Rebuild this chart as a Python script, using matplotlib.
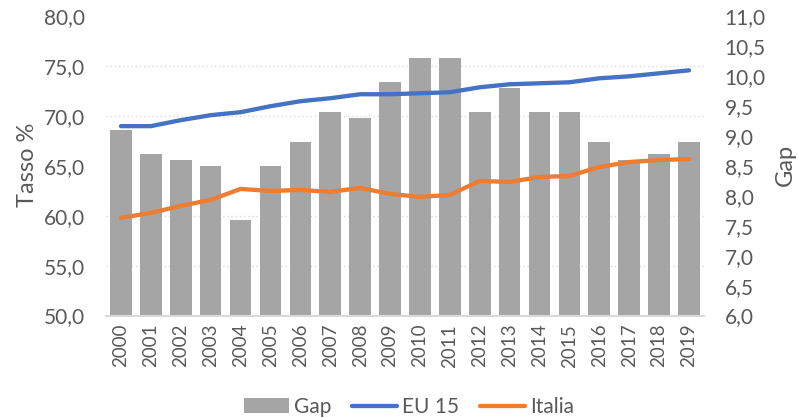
import matplotlib
matplotlib.use("Agg")
import matplotlib.pyplot as plt
import numpy as np
from matplotlib.ticker import FuncFormatter, FixedLocator, MultipleLocator

years = [str(y) for y in range(2000, 2020)]
gap = [9.1, 8.7, 8.6, 8.5, 7.6, 8.5, 8.9, 9.4, 9.3, 9.9,
       10.3, 10.3, 9.4, 9.8, 9.4, 9.4, 8.9, 8.6, 8.7, 8.9]
eu15 = [69.0, 69.0, 69.6, 70.1, 70.4, 71.0, 71.5, 71.8, 72.2, 72.2,
        72.3, 72.4, 72.9, 73.2, 73.3, 73.4, 73.8, 74.0, 74.3, 74.6]
italia = [59.8, 60.3, 61.0, 61.6, 62.7, 62.5, 62.6, 62.4, 62.8, 62.2,
          61.9, 62.1, 63.5, 63.4, 63.9, 64.0, 64.9, 65.4, 65.6, 65.7]

plt.rcParams['font.family'] = ['Lato', 'DejaVu Sans']
txt = '#595959'
W, H = 799, 418

fig = plt.figure(figsize=(7.99, 4.18), dpi=100)
axb = fig.add_axes([0.1327, 0.2452, 0.881 - 0.1327, 0.9605 - 0.2452])
axl = axb.twinx()

x = np.arange(len(years))
fmt = FuncFormatter(lambda v, p: f"{v:.1f}".replace('.', ','))

# bars axis (right scale)
bars = axb.bar(x, gap, width=0.725, color='#A5A5A5', label='Gap', zorder=2)
axb.set_ylim(6.0, 11.0)
axb.set_xlim(-0.5, len(years) - 0.5)
axb.yaxis.set_major_locator(MultipleLocator(0.5))
axb.yaxis.set_minor_locator(FixedLocator(np.linspace(6.0, 11.0, 7)))
axb.grid(which='minor', axis='y', color='#D9D9D9', linestyle=(0, (1, 2)), linewidth=1.0, zorder=0)
axb.set_axisbelow(True)
axb.yaxis.set_major_formatter(fmt)
axb.yaxis.tick_right()
axb.tick_params(axis='y', which='both', length=0, labelsize=15, colors=txt, pad=15,
                left=False, labelleft=False, right=True, labelright=True)
axb.set_xticks(x)
axb.set_xticklabels(years, rotation=90)
axb.tick_params(axis='x', length=0, labelsize=13.5, colors=txt, pad=6)
for s in ['top', 'left', 'right']:
    axb.spines[s].set_visible(False)
axb.spines['bottom'].set_color('#D9D9D9')
axb.spines['bottom'].set_linewidth(1.5)

# lines axis (left scale)
l1, = axl.plot(x, eu15, color='#4472C4', linewidth=3.1, label='EU 15', solid_capstyle='round')
l2, = axl.plot(x, italia, color='#ED7D31', linewidth=3.1, label='Italia', solid_capstyle='round')
axl.set_ylim(50, 80)
axl.yaxis.set_major_locator(MultipleLocator(5))
axl.yaxis.set_major_formatter(fmt)
axl.yaxis.tick_left()
axl.tick_params(axis='y', length=0, labelsize=15, colors=txt, pad=15,
                right=False, labelright=False, left=True, labelleft=True)
for s in ['top', 'left', 'right', 'bottom']:
    axl.spines[s].set_visible(False)

# axis titles
fig.text(28 / W, 1 - 165 / H, 'Tasso %', rotation=90, ha='center', va='center',
         fontsize=17, color=txt)
fig.text(785 / W, 1 - 165 / H, 'Gap', rotation=90, ha='center', va='center',
         fontsize=17, color=txt)

fig.legend([bars, l1, l2], ['Gap', 'EU 15', 'Italia'], loc='center',
           bbox_to_anchor=(409 / W, (H - 407) / H), ncol=3, frameon=False, fontsize=15,
           labelcolor=txt, handlelength=2.15, handletextpad=0.25, columnspacing=1.0)

fig.savefig('out.png', dpi=100)
